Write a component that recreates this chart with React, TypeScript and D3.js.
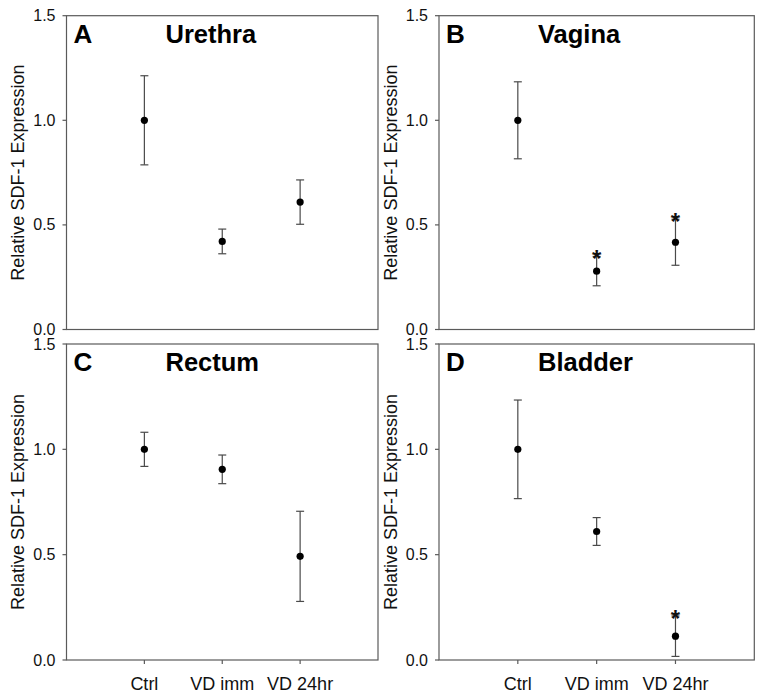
import React from "react";
import * as d3 from "d3";

const categories = ["Ctrl", "VD imm", "VD 24hr"];
const yTicks = [0.0, 0.5, 1.0, 1.5];

const panelLetters = ["A", "B", "C", "D"];
const panelTitles = ["Urethra", "Vagina", "Rectum", "Bladder"];

const urethraMean = [1.0, 0.421, 0.609];
const urethraSem = [0.213, 0.059, 0.106];
const urethraSig = [false, false, false];

const vaginaMean = [1.0, 0.279, 0.417];
const vaginaSem = [0.184, 0.07, 0.11];
const vaginaSig = [false, true, true];

const rectumMean = [1.0, 0.905, 0.492];
const rectumSem = [0.081, 0.068, 0.214];
const rectumSig = [false, false, false];

const bladderMean = [1.0, 0.61, 0.113];
const bladderSem = [0.234, 0.066, 0.096];
const bladderSig = [false, false, true];

const W = 764;
const H = 698;

const FONT = "Liberation Sans, Arial, Helvetica, sans-serif";
const FRAME = "#5a5a5a";
const ERR = "#4a4a4a";

type PanelProps = {
  x0: number;
  x1: number;
  y0: number;
  y1: number;
  letter: string;
  title: string;
  means: number[];
  sems: number[];
  sig: boolean[];
  showXLabels: boolean;
  labelX: number;
};

function Panel({ x0, x1, y0, y1, letter, title, means, sems, sig, showXLabels, labelX }: PanelProps) {
  const x = d3.scaleLinear().domain([0, 4]).range([x0, x1]);
  const y = d3.scaleLinear().domain([0, 1.5]).range([y1, y0]);
  const tick = 4;
  const cap = 4;
  return (
    <g>
      <rect x={x0} y={y0} width={x1 - x0} height={y1 - y0} fill="none" stroke={FRAME} strokeWidth={1.2} />
      {yTicks.map((t) => (
        <g key={t}>
          <line x1={x0 - tick} x2={x0} y1={y(t)} y2={y(t)} stroke={FRAME} strokeWidth={1.2} />
          <text
            x={x0 - 11}
            y={y(t)}
            textAnchor="end"
            dominantBaseline="central"
            fontSize={16}
            fontFamily={FONT}
            fill="#111"
          >
            {t.toFixed(1)}
          </text>
        </g>
      ))}
      {showXLabels &&
        categories.map((c, i) => (
          <g key={c}>
            <line x1={x(i + 1)} x2={x(i + 1)} y1={y1} y2={y1 + tick} stroke={FRAME} strokeWidth={1.2} />
            <text x={x(i + 1)} y={y1 + 30} textAnchor="middle" fontSize={18} fontFamily={FONT} fill="#111">
              {c}
            </text>
          </g>
        ))}
      <text
        transform={`translate(${labelX},${(y0 + y1) / 2}) rotate(-90)`}
        textAnchor="middle"
        dominantBaseline="central"
        fontSize={18}
        fontFamily={FONT}
        fill="#111"
      >
        Relative SDF-1 Expression
      </text>
      <text x={x0 + 7} y={y0 + 27} fontSize={26} fontWeight="bold" fontFamily={FONT} fill="#000">
        {letter}
      </text>
      <text x={x0 + 99} y={y0 + 27} fontSize={25.5} fontWeight="bold" fontFamily={FONT} fill="#000">
        {title}
      </text>
      {means.map((m, i) => {
        const cx = x(i + 1);
        const hi = y(m + sems[i]);
        const lo = y(m - sems[i]);
        return (
          <g key={i}>
            <line x1={cx} x2={cx} y1={hi} y2={lo} stroke={ERR} strokeWidth={1.2} />
            <line x1={cx - cap} x2={cx + cap} y1={hi} y2={hi} stroke={ERR} strokeWidth={1.2} />
            <line x1={cx - cap} x2={cx + cap} y1={lo} y2={lo} stroke={ERR} strokeWidth={1.2} />
            <circle cx={cx} cy={y(m)} r={3.6} fill="#000" />
            {sig[i] && (
              <text x={cx} y={hi + 11} textAnchor="middle" fontSize={24} fontWeight="bold" fontFamily={FONT} fill="#111">
                *
              </text>
            )}
          </g>
        );
      })}
    </g>
  );
}

export default function App() {
  const left = { x0: 66.5, x1: 378, labelX: 18 };
  const right = { x0: 439, x1: 754.3, labelX: 391 };
  const top = { y0: 15.7, y1: 329.5 };
  const bottom = { y0: 344, y1: 660 };
  return (
    <div style={{ position: "absolute", left: 0, top: 0 }}>
      <svg width={W} height={H} style={{ display: "block", background: "#fff" }}>
        <rect x={0} y={0} width={W} height={H} fill="#fff" />
        <Panel {...left} {...top} letter={panelLetters[0]} title={panelTitles[0]} means={urethraMean} sems={urethraSem} sig={urethraSig} showXLabels={false} />
        <Panel {...right} {...top} letter={panelLetters[1]} title={panelTitles[1]} means={vaginaMean} sems={vaginaSem} sig={vaginaSig} showXLabels={false} />
        <Panel {...left} {...bottom} letter={panelLetters[2]} title={panelTitles[2]} means={rectumMean} sems={rectumSem} sig={rectumSig} showXLabels={true} />
        <Panel {...right} {...bottom} letter={panelLetters[3]} title={panelTitles[3]} means={bladderMean} sems={bladderSem} sig={bladderSig} showXLabels={true} />
      </svg>
    </div>
  );
}
